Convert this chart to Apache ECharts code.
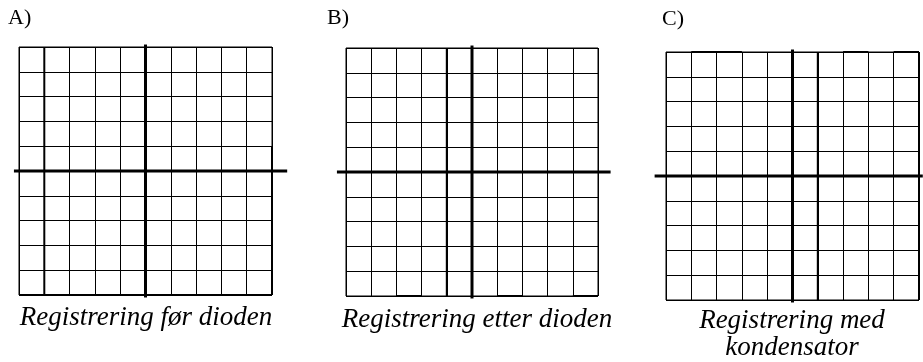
<!DOCTYPE html>
<html>
<head>
<meta charset="utf-8">
<script src="https://cdn.jsdelivr.net/npm/echarts@6/dist/echarts.min.js"></script>
<style>
  html, body { margin: 0; padding: 0; background: #fff; }
  #chart { width: 923px; height: 362px; }
</style>
</head>
<body>
<div id="chart"></div>
<script>
// skjermrutenett: 10 x 10 ruter, akser fra -5 til 5
const divMin = -5;
const divMax = 5;
const divStep = 1;

const panelLabels = ['A)', 'B)', 'C)'];
const captions = [
  ['Registrering før dioden'],
  ['Registrering etter dioden'],
  ['Registrering med', 'kondensator']
];

// hvor langt de tykke nullinjene går (i ruter)
const zeroLineX = [[-5.2, 5.6], [-5.36, 5.5], [-5.45, 5.15]];
const zeroLineY = [[-5.1, 5.1], [-5.1, 5.1], [-5.1, 5.1]];
// utstrekning for de usynlige hjelpeaksene
const outerX = [[-5.5, 5.7], [-5.5, 5.6], [-5.5, 5.15]];
const outerY = [-5.2, 5.2];

// tykkere streker i hvert rutenett
const tracesA = [
  [[-4, -5], [-4, 5]],
  [[5, 1], [5, -5]],
  [[-5, -5], [5, -5]]
];
const tracesB = [
  [[-1, -5], [-1, 5]],
  [[-3, -5], [-2, -5]],
  [[1, -5], [2, -5]],
  [[4, -5], [5, -5]]
];
const tracesC = [
  [[1, -5], [1, 5]],
  [[5, -5], [5, 5]],
  [[-4, 5], [-2, 5]],
  [[2, 5], [3, 5]],
  [[4, 5], [5, 5]]
];
const traces = [tracesA, tracesB, tracesC];

const gridBoxes = [
  { left: 19, top: 47, width: 253, height: 248 },
  { left: 346, top: 48, width: 252, height: 248 },
  { left: 666, top: 52, width: 253, height: 248 }
];
const labelPos = [[8, 18], [327, 18], [662, 19]];
const captionPos = [[146, 305], [477, 307], [792, 308]];

const serif = '"Liberation Serif", "DejaVu Serif", serif';

const chart = echarts.init(document.getElementById('chart'));

const grids = [], xAxes = [], yAxes = [], series = [], graphics = [];

function axisBase(min, max, showSplit) {
  const ax = {
    type: 'value',
    min: min,
    max: max,
    axisLine: { show: false },
    axisTick: { show: false },
    axisLabel: { show: false },
    splitLine: { show: showSplit, lineStyle: { color: '#000', width: 1 } }
  };
  if (showSplit) ax.interval = divStep;
  return ax;
}

function lineSeries(i, data, width) {
  return {
    type: 'line',
    xAxisIndex: i,
    yAxisIndex: i,
    data: data,
    symbol: 'none',
    clip: false,
    silent: true,
    lineStyle: { color: '#000', width: width },
    z: 5
  };
}

for (let i = 0; i < 3; i++) {
  grids.push(Object.assign({ show: true, borderColor: '#000', borderWidth: 1, backgroundColor: 'transparent' }, gridBoxes[i]));
  xAxes.push(Object.assign(axisBase(divMin, divMax, true), { gridIndex: i }));
  yAxes.push(Object.assign(axisBase(divMin, divMax, true), { gridIndex: i }));
  traces[i].forEach(seg => series.push(lineSeries(i, seg, 2)));
}

// usynlige, litt bredere koordinatsystem for de tykke nullinjene
for (let i = 0; i < 3; i++) {
  const b = gridBoxes[i];
  const cw = b.width / (divMax - divMin);
  const ch = b.height / (divMax - divMin);
  const k = 3 + i;
  grids.push({
    left: b.left - cw * (divMin - outerX[i][0]),
    top: b.top - ch * (outerY[1] - divMax),
    width: cw * (outerX[i][1] - outerX[i][0]),
    height: ch * (outerY[1] - outerY[0])
  });
  xAxes.push(Object.assign(axisBase(outerX[i][0], outerX[i][1], false), { gridIndex: k }));
  yAxes.push(Object.assign(axisBase(outerY[0], outerY[1], false), { gridIndex: k }));
  series.push(lineSeries(k, [[zeroLineX[i][0], 0], [zeroLineX[i][1], 0]], 3));
  series.push(lineSeries(k, [[0, zeroLineY[i][0]], [0, zeroLineY[i][1]]], 3));

  graphics.push({
    type: 'text',
    x: labelPos[i][0],
    y: labelPos[i][1],
    style: { text: panelLabels[i], font: '22px ' + serif, fill: '#000', textVerticalAlign: 'middle' }
  });
  graphics.push({
    type: 'text',
    x: captionPos[i][0],
    y: captionPos[i][1],
    style: {
      text: captions[i].join('\n'),
      font: 'italic 27px ' + serif,
      lineHeight: 26.5,
      fill: '#000',
      textAlign: 'center',
      textVerticalAlign: 'top'
    }
  });
}

chart.setOption({
  animation: false,
  grid: grids,
  xAxis: xAxes,
  yAxis: yAxes,
  series: series,
  graphic: graphics
});
</script>
</body>
</html>
